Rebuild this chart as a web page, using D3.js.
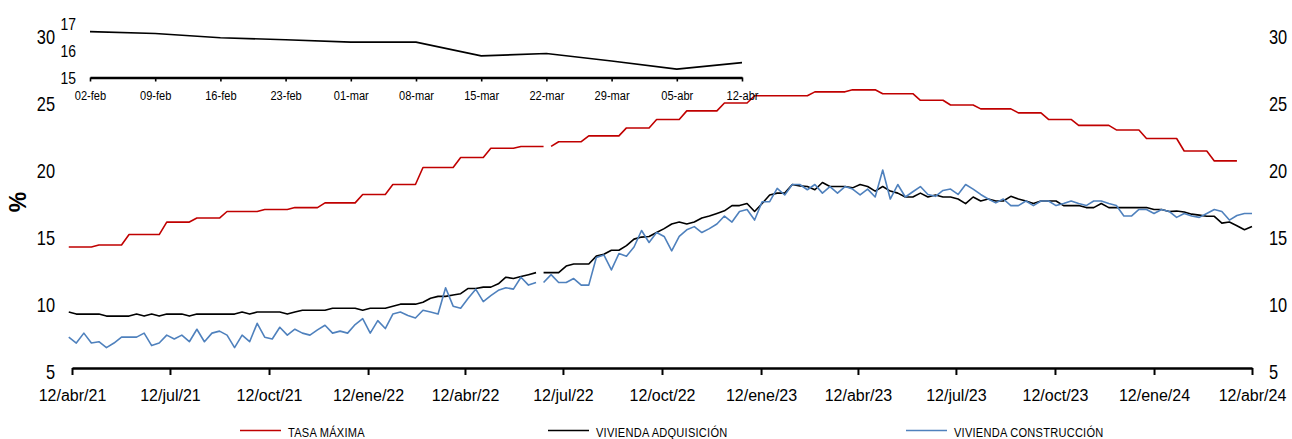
<!DOCTYPE html>
<html>
<head>
<meta charset="utf-8">
<script src="https://cdn.jsdelivr.net/npm/d3@7"></script>
<style>
  body { margin: 0; background: #fff; }
  svg { display: block; }
  text { font-family: "Liberation Sans", Arial, sans-serif; }
</style>
</head>
<body>
<svg id="chart" width="1292" height="439"></svg>
<script>
'use strict';

// weekly observations (fridays), first one on 9-apr-2021
var firstWeek = "2021-04-09";

var tasaMaxima = [
  14.02, 14.02, 14.02, 14.02, 14.17, 14.17, 14.17, 14.17,
  14.95, 14.95, 14.95, 14.95, 14.95, 15.88, 15.88, 15.88, 15.88,
  16.18, 16.18, 16.18, 16.18, 16.67, 16.67, 16.67, 16.67, 16.67,
  16.82, 16.82, 16.82, 16.82, 16.96, 16.96, 16.96, 16.96,
  17.31, 17.31, 17.31, 17.31, 17.31, 17.94, 17.94, 17.94, 17.94,
  18.68, 18.68, 18.68, 18.68, 19.95, 19.95, 19.95, 19.95, 19.95,
  20.69, 20.69, 20.69, 20.69, 21.38, 21.38, 21.38, 21.38,
  21.52, 21.52, 21.52, 21.52, 21.52, 21.87, 21.87, 21.87, 21.87,
  22.31, 22.31, 22.31, 22.31, 22.31, 22.90, 22.90, 22.90, 22.90,
  23.53, 23.53, 23.53, 23.53, 24.17, 24.17, 24.17, 24.17, 24.17,
  24.76, 24.76, 24.76, 24.76,
  25.30, 25.30, 25.30, 25.30, 25.30, 25.30, 25.30, 25.30,
  25.59, 25.59, 25.59, 25.59, 25.59, 25.74, 25.74, 25.74, 25.74,
  25.45, 25.45, 25.45, 25.45, 25.45, 24.96, 24.96, 24.96, 24.96,
  24.61, 24.61, 24.61, 24.61, 24.32, 24.32, 24.32, 24.32, 24.32,
  24.02, 24.02, 24.02, 24.02, 23.53, 23.53, 23.53, 23.53,
  23.09, 23.09, 23.09, 23.09, 23.09, 22.75, 22.75, 22.75, 22.75,
  22.11, 22.11, 22.11, 22.11, 22.11, 21.18, 21.18, 21.18, 21.18,
  20.44, 20.44, 20.44, 20.44
];

var viviendaAdquisicion = [
  9.17, 9.02, 9.02, 9.02, 9.02, 8.87, 8.87, 8.87, 8.87, 9.02,
  8.87, 9.02, 8.87, 9.02, 9.02, 9.02, 8.87, 9.02, 9.02, 9.02,
  9.02, 9.02, 9.02, 9.17, 9.02, 9.17, 9.17, 9.17, 9.17, 9.02,
  9.17, 9.31, 9.31, 9.31, 9.31, 9.46, 9.46, 9.46, 9.46, 9.31,
  9.46, 9.46, 9.46, 9.61, 9.76, 9.76, 9.76, 9.90, 10.20, 10.34,
  10.34, 10.44, 10.54, 10.93, 10.93, 11.03, 11.03, 11.28, 11.77, 11.67,
  11.82, 11.96, 12.11, 12.11, 12.11, 12.11, 12.60, 12.75, 12.75, 12.75,
  13.34, 13.48, 13.78, 13.78, 14.12, 14.61, 14.76, 14.81, 15.10, 15.39,
  15.74, 15.88, 15.74, 15.88, 16.18, 16.33, 16.52, 16.72, 17.11, 17.11,
  17.26, 16.67, 17.26, 17.90, 18.04, 18.04, 18.68, 18.58, 18.53, 18.29,
  18.83, 18.53, 18.53, 18.53, 18.43, 18.68, 18.53, 18.19, 18.53, 18.19,
  18.04, 17.75, 17.75, 18.04, 17.75, 17.90, 17.75, 17.75, 17.60, 17.26,
  17.75, 17.45, 17.60, 17.45, 17.45, 17.80, 17.60, 17.45, 17.26, 17.45,
  17.45, 17.45, 17.11, 17.11, 17.11, 16.96, 16.96, 17.26, 16.96, 16.96,
  16.96, 16.96, 16.96, 16.96, 16.82, 16.82, 16.67, 16.70, 16.63, 16.47,
  16.40, 16.31, 16.31, 15.80, 15.89, 15.61, 15.31, 15.55
];

var viviendaConstruccion = [
  7.30, 6.86, 7.60, 6.86, 6.96, 6.52, 6.86, 7.30, 7.30, 7.30,
  7.60, 6.67, 6.86, 7.45, 7.16, 7.45, 6.96, 7.89, 6.96, 7.60,
  7.75, 7.45, 6.52, 7.45, 6.96, 8.33, 7.30, 7.16, 8.04, 7.45,
  7.89, 7.60, 7.45, 7.84, 8.19, 7.60, 7.75, 7.60, 8.24, 8.68,
  7.60, 8.53, 7.94, 9.02, 9.17, 8.92, 8.73, 9.31, 9.17, 9.02,
  10.98, 9.61, 9.46, 10.20, 10.88, 9.95, 10.39, 10.79, 10.98, 10.88,
  11.77, 11.18, 11.37, 11.37, 11.96, 11.37, 11.37, 11.67, 11.18, 11.18,
  13.24, 13.43, 12.31, 13.53, 13.34, 14.02, 15.25, 14.36, 15.10, 14.81,
  13.73, 14.81, 15.30, 15.54, 15.10, 15.39, 15.74, 16.33, 15.88, 16.67,
  16.82, 16.03, 17.40, 17.40, 18.39, 17.90, 18.68, 18.68, 18.29, 18.68,
  18.04, 18.53, 18.04, 18.53, 18.34, 17.90, 18.34, 17.75, 19.76, 17.60,
  18.68, 17.75, 18.14, 18.53, 17.94, 17.80, 18.24, 18.34, 17.94, 18.68,
  18.34, 17.94, 17.60, 17.31, 17.60, 17.11, 17.11, 17.45, 17.11, 17.45,
  17.45, 17.11, 17.26, 17.45, 17.26, 17.11, 17.45, 17.45, 17.26, 17.11,
  16.33, 16.33, 16.82, 16.82, 16.52, 16.82, 16.67, 16.23, 16.52, 16.33,
  16.23, 16.52, 16.82, 16.67, 16.03, 16.37, 16.52, 16.52
];

// index after which each series has a break in its line
var gapAfter = [63, 62, 62];

var seriesNames = ["TASA MÁXIMA", "VIVIENDA ADQUISICIÓN", "VIVIENDA CONSTRUCCIÓN"];
var seriesColors = ["#c00000", "#000000", "#4f81bd"];

var xTickDates = ["2021-04-12", "2021-07-12", "2021-10-12", "2022-01-12", "2022-04-12",
  "2022-07-12", "2022-10-12", "2023-01-12", "2023-04-12", "2023-07-12",
  "2023-10-12", "2024-01-12", "2024-04-12"];
var xTickLabels = ["12/abr/21", "12/jul/21", "12/oct/21", "12/ene/22", "12/abr/22",
  "12/jul/22", "12/oct/22", "12/ene/23", "12/abr/23", "12/jul/23",
  "12/oct/23", "12/ene/24", "12/abr/24"];
var yTicks = [5, 10, 15, 20, 25, 30];

// inset: last eleven weeks of vivienda adquisición
var insetLabels = ["02-feb", "09-feb", "16-feb", "23-feb", "01-mar", "08-mar",
  "15-mar", "22-mar", "29-mar", "05-abr", "12-abr"];
var insetTicks = [15, 16, 17];

var parse = d3.utcParse("%Y-%m-%d");
var start = parse(firstWeek);
var svg = d3.select("#chart");

// no narrow face installed: squeeze the regular one
var narrow = function(sel) {
  sel.attr("transform", "scale(0.82,1)");
};

var x = d3.scaleUtc()
  .domain([parse(xTickDates[0]), parse(xTickDates[xTickDates.length - 1])])
  .range([72, 1252]);
var y = d3.scaleLinear().domain([5, 30]).range([368, 32.7]);

// lines
[tasaMaxima, viviendaAdquisicion, viviendaConstruccion].forEach(function(values, s) {
  var pts = values.map(function(v, i) {
    return { date: d3.utcDay.offset(start, 7 * i), v: v, seg: i > gapAfter[s] ? 1 : 0 };
  });
  var line = d3.line()
    .x(function(d) { return x(d.date); })
    .y(function(d) { return y(d.v); });
  svg.append("g").selectAll("path")
    .data(Array.from(d3.group(pts, function(d) { return d.seg; }).values()))
  .enter().append("path")
    .attr("d", line)
    .attr("fill", "none")
    .attr("stroke", seriesColors[s])
    .attr("stroke-width", 1.6)
    .attr("stroke-linejoin", "round");
});

// x axis
var xAxis = svg.append("g")
  .attr("transform", "translate(0,368)")
  .call(d3.axisBottom(x)
    .tickValues(xTickDates.map(parse))
    .tickFormat(function(d, i) { return xTickLabels[i]; })
    .tickSize(7)
    .tickSizeOuter(0)
    .tickPadding(15));
xAxis.select(".domain").attr("stroke", "#000").attr("stroke-width", 2.6);
xAxis.selectAll(".tick line").attr("stroke", "#000").attr("stroke-width", 2);
xAxis.selectAll("text")
  .attr("font-family", null)
  .attr("font-size", 16)
  .attr("fill", "#000");

// y labels both sides
var yLeft = svg.append("g")
  .attr("transform", "translate(55,0)")
  .call(d3.axisLeft(y).tickValues(yTicks).tickSize(0).tickPadding(0));
var yRight = svg.append("g")
  .attr("transform", "translate(1269,0)")
  .call(d3.axisRight(y).tickValues(yTicks).tickSize(0).tickPadding(0));
[yLeft, yRight].forEach(function(g) {
  g.attr("font-family", null);
  g.select(".domain").remove();
  g.selectAll("text")
    .attr("font-size", 20)
    .attr("dy", "0.52em")
    .attr("fill", "#000")
    .call(narrow);
});

svg.append("text")
  .attr("transform", "translate(26,202) rotate(-90)")
  .attr("text-anchor", "middle")
  .attr("font-size", 23)
  .attr("font-weight", "bold")
  .text("%");

// inset chart
var ix = d3.scalePoint().domain(insetLabels).range([90, 742]);
var iy = d3.scaleLinear().domain([15, 17]).range([77.5, 23.5]);
var insetValues = viviendaAdquisicion.slice(-insetLabels.length);

var inset = svg.append("g");
inset.append("path")
  .datum(insetValues)
  .attr("d", d3.line()
    .x(function(d, i) { return ix(insetLabels[i]); })
    .y(function(d) { return iy(d); }))
  .attr("fill", "none")
  .attr("stroke", "#000")
  .attr("stroke-width", 1.6);

var insetAxis = inset.append("g")
  .attr("transform", "translate(0,77.5)")
  .attr("font-family", null)
  .call(d3.axisBottom(ix).tickSize(4).tickSizeOuter(0).tickPadding(9));
insetAxis.attr("font-family", null);
insetAxis.select(".domain").attr("stroke", "#000").attr("stroke-width", 2.4);
insetAxis.selectAll(".tick line").attr("stroke", "#000").attr("stroke-width", 1.6);
insetAxis.selectAll("text")
  .attr("font-size", 13.5)
  .attr("fill", "#000")
  .call(narrow);

var insetY = inset.append("g")
  .attr("transform", "translate(76,0)")
  .call(d3.axisLeft(iy).tickValues(insetTicks).tickFormat(d3.format("d")).tickSize(0).tickPadding(0));
insetY.attr("font-family", null);
insetY.select(".domain").remove();
insetY.selectAll("text")
  .attr("font-size", 17)
  .attr("dy", "0.36em")
  .attr("fill", "#000")
  .call(narrow);

// legend
var legendX = [240, 548, 906];
var legend = svg.append("g").selectAll("g")
  .data(seriesNames)
.enter().append("g")
  .attr("transform", function(d, i) { return "translate(" + legendX[i] + ",430.5)"; });
legend.append("line")
  .attr("x1", 0).attr("x2", 41)
  .attr("stroke", function(d, i) { return seriesColors[i]; })
  .attr("stroke-width", 1.4);
legend.append("text")
  .attr("transform", "translate(48,6) scale(0.82,1)")
  .attr("font-size", 13.5)
  .attr("letter-spacing", 0.3)
  .text(function(d) { return d; });
</script>
</body>
</html>
